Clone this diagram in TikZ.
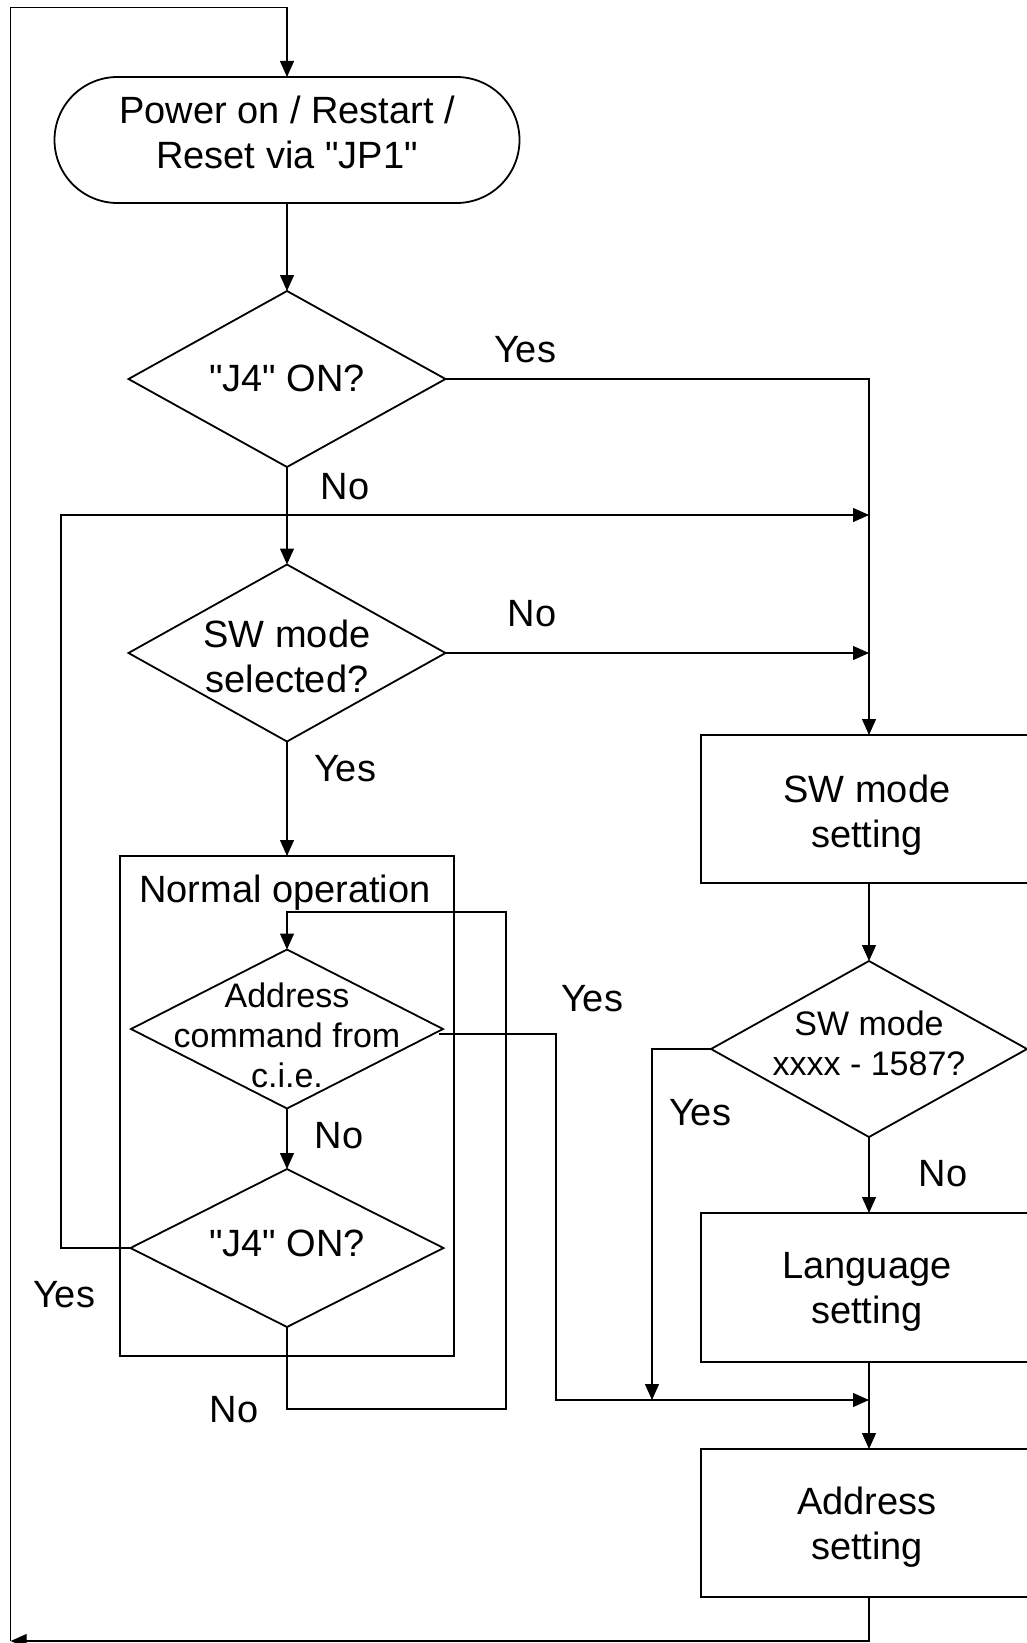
\documentclass[tikz,border=0pt]{standalone}
\usepackage{fontspec}
\setmainfont{Liberation Sans}
\newfontfamily\plainlib{Liberation Sans}
\usetikzlibrary{arrows.meta,shapes.geometric,calc}
\newcommand\sdq{{\plainlib"}}
\begin{document}
\begin{tikzpicture}[x=1pt,y=-1pt,
  shp/.style={draw, line width=1.8pt, inner sep=0pt, outer sep=0pt},
  dia/.style={shp, diamond},
  box/.style={shp, rectangle},
  big/.style={font=\fontsize{38}{45}\selectfont, align=center, inner sep=0pt},
  small/.style={font=\fontsize{34}{40}\selectfont, align=center, inner sep=0pt},
  lbl/.style={font=\fontsize{38}{45}\selectfont, inner sep=0pt, anchor=base},
  arr/.style={-{Triangle[length=16pt,width=14pt]}, line width=1.3pt},
]
\useasboundingbox (0,0) rectangle (1027,1643);
\clip (0,0) rectangle (1027,1643);

% shapes
\node[box, rounded corners=63pt, minimum width=465pt, minimum height=126pt] (term) at (287,140) {};
\node[big] (termt) at (287,132) {Power on / Restart /\\Reset via \sdq JP1\sdq};

\node[dia, minimum width=317pt, minimum height=176pt] (d1) at (287,379) {};
\node[lbl] (d1t) at (287,391) {\sdq J4\sdq{} ON?};

\node[dia, minimum width=317pt, minimum height=177pt] (d2) at (287,653) {};
\node[big] (d2t) at (287,656) {SW mode\\selected?};

\node[box, minimum width=334pt, minimum height=500pt] (normal) at (287,1106) {};
\node[lbl] (normalt) at (285,902) {Normal operation};

\node[dia, minimum width=312pt, minimum height=159pt] (d3) at (287,1029) {};
\node[small] (d3t) at (287,1035) {Address\\command from\\c.i.e.};

\node[dia, minimum width=313pt, minimum height=158pt] (d4) at (287,1248) {};
\node[lbl] (d4t) at (287,1256) {\sdq J4\sdq{} ON?};

\node[box, minimum width=336pt, minimum height=148pt] (sw) at (869,809) {};
\node[big] (swt) at (867,815) {SW mode\\setting};

\node[dia, minimum width=316pt, minimum height=176pt] (d5) at (869,1049) {};
\node[small] (d5t) at (869,1043) {SW mode\\xxxx - 1587?};

\node[box, minimum width=336pt, minimum height=149pt] (lang) at (869,1287.5) {};
\node[big] (langt) at (867,1292) {Language\\setting};

\node[box, minimum width=336pt, minimum height=148pt] (addr) at (869,1523) {};
\node[big] (addrt) at (867,1527) {Address\\setting};

% coordinates
\coordinate (bl) at (10.7,1641);
\coordinate (tl) at (10.7,7.3);
\coordinate (tt) at (287,7.3);
\coordinate (j1) at (869,515);
\coordinate (lw) at (61,1248);
\coordinate (lp1) at (287,1409);
\coordinate (lp2) at (506,1409);
\coordinate (lp3) at (506,912);
\coordinate (lp4) at (287,912);
\coordinate (ye0) at ($(d3.east)+(-4,5)$);
\coordinate (ye1) at (556,1034);
\coordinate (ye2) at (556,1400);
\coordinate (j3) at (869,1400);
\coordinate (y5) at (652,1049);
\coordinate (y5b) at (652,1400);

% connectors
\draw[arr] (addr.south) |- (bl);
\draw[arr] (bl) -- (tl) -- (tt) -- (term.north);
\draw[arr] (term.south) -- (d1.north);
\draw[arr] (d1.east) -| (sw.north);
\draw[arr] (d1.south) -- (d2.north);
\draw[arr] (d4.west) -- (lw) |- (j1);
\draw[arr] (d2.east) -- (d2.east -| sw.north);
\draw[arr] (d2.south) -- (normal.north);
\draw[arr] (d4.south) -- (lp1) -- (lp2) -- (lp3) -- (lp4) -- (d3.north);
\draw[arr] (d3.south) -- (d4.north);
\draw[arr] (ye0) -- (ye1) -- (ye2) -- (j3);
\draw[arr] (sw.south) -- (d5.north);
\draw[arr] (d5.west) -- (y5) -- (y5b);
\draw[arr] (d5.south) -- (lang.north);
\draw[arr] (lang.south) -- (addr.north);

% labels
\node[lbl] (l1) at (525,362) {Yes};
\node[lbl] (l2) at (345,499) {No};
\node[lbl] (l3) at (532,626) {No};
\node[lbl] (l4) at (345,781) {Yes};
\node[lbl] (l5) at (592,1011) {Yes};
\node[lbl] (l6) at (339,1148) {No};
\node[lbl] (l7) at (64,1307) {Yes};
\node[lbl] (l8) at (234,1422) {No};
\node[lbl] (l9) at (700,1125) {Yes};
\node[lbl] (l10) at (943,1186) {No};
\end{tikzpicture}
\end{document}
